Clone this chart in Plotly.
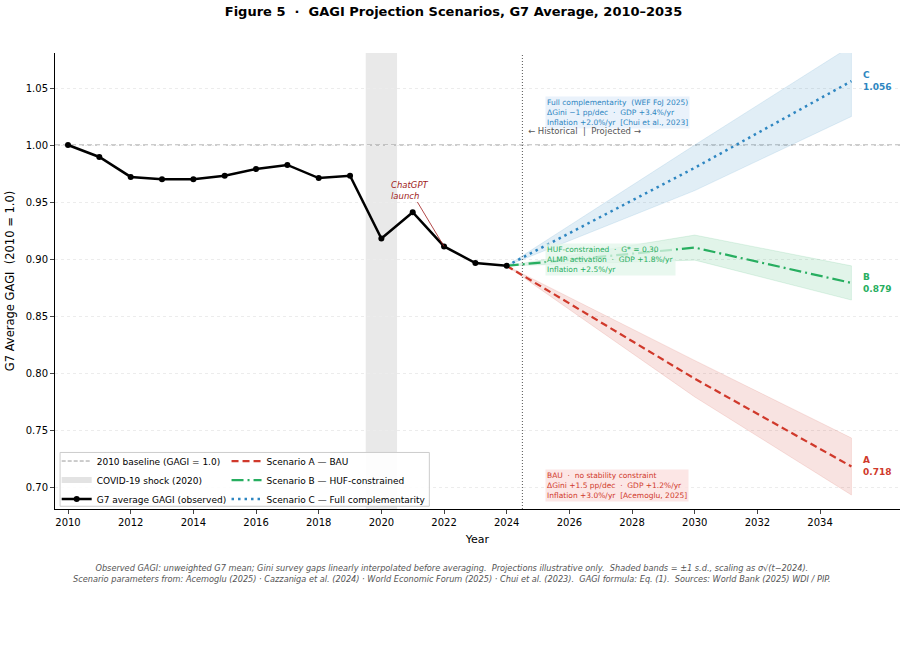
import plotly.graph_objects as go

# ---------------- data ----------------
obs_years = [2010, 2011, 2012, 2013, 2014, 2015, 2016, 2017, 2018, 2019, 2020, 2021, 2022, 2023, 2024]
obs_gagi = [1.000, 0.9895, 0.972, 0.970, 0.970, 0.973, 0.979, 0.9825, 0.971, 0.973, 0.918, 0.941, 0.911, 0.8965, 0.894]

proj_years = [2024, 2030, 2035]
scen_A = [0.894, 0.795, 0.718]
scen_B = [0.894, 0.910, 0.879]
scen_C = [0.894, 0.980, 1.056]
band_A = [0.0, 0.016, 0.025]
band_B = [0.0, 0.011, 0.015]
band_C = [0.0, 0.020, 0.031]

baseline_value = 1.0
covid_years = [2019.5, 2020.5]
split_year = 2024.5
chatgpt_year = 2022

x_ticks = list(range(2010, 2036, 2))
y_ticks = [0.70, 0.75, 0.80, 0.85, 0.90, 0.95, 1.00, 1.05]

col_A = "#d0392b"
col_B = "#27ae60"
col_C = "#2e86c1"
font_family = "DejaVu Sans"

fig = go.Figure()

# covid shading
fig.add_vrect(x0=covid_years[0], x1=covid_years[1], fillcolor="#e3e3e3", opacity=0.8,
              line_width=0, layer="below")
# baseline
fig.add_hline(y=baseline_value, line=dict(color="#9a9a9a", width=1, dash="5px,3px"), layer="below")
# split line
fig.add_vline(x=split_year, line=dict(color="#555555", width=1, dash="1px,2px"))


def band_poly(values, half):
    up = [v + h for v, h in zip(values, half)]
    lo = [v - h for v, h in zip(values, half)]
    return proj_years + proj_years[::-1], up + lo[::-1]


for vals, half, fillc in [(scen_A, band_A, "rgba(208,57,43,0.14)"),
                          (scen_B, band_B, "rgba(39,174,96,0.14)"),
                          (scen_C, band_C, "rgba(46,134,193,0.14)")]:
    bx, by = band_poly(vals, half)
    fig.add_trace(go.Scatter(x=bx, y=by, fill="toself", fillcolor=fillc, mode="lines",
                             line=dict(color=fillc.replace("0.14", "0.16"), width=0.8),
                             showlegend=False, hoverinfo="skip"))

# legend-only items (col 1)
fig.add_trace(go.Scatter(x=[None], y=[None], mode="lines", name="2010 baseline (GAGI = 1.0)",
                         line=dict(color="#9a9a9a", width=1, dash="4px,2px"), legend="legend"))
fig.add_trace(go.Scatter(x=[None, None, None], y=[None, None, None], mode="none", fill="toself",
                         fillcolor="#e3e3e3", name="COVID-19 shock (2020)", legend="legend"))

# scenarios
fig.add_trace(go.Scatter(x=proj_years, y=scen_A, mode="lines", name="Scenario A — BAU",
                         line=dict(color=col_A, width=2.2, dash="7px,4px"), legend="legend2"))
fig.add_trace(go.Scatter(x=proj_years, y=scen_B, mode="lines", name="Scenario B — HUF-constrained",
                         line=dict(color=col_B, width=2.2, dash="12px,4px,2px,4px"), legend="legend2"))
fig.add_trace(go.Scatter(x=proj_years, y=scen_C, mode="lines", name="Scenario C — Full complementarity",
                         line=dict(color=col_C, width=2.5, dash="2.5px,4px"), legend="legend2"))

# observed
fig.add_trace(go.Scatter(x=obs_years, y=obs_gagi, mode="lines+markers", name="G7 average GAGI (observed)",
                         line=dict(color="black", width=2.5), marker=dict(color="black", size=6),
                         legend="legend"))

# ChatGPT annotation
idx = obs_years.index(chatgpt_year)
fig.add_annotation(x=chatgpt_year, y=obs_gagi[idx], ax=2020.92, ay=0.9605, axref="x", ayref="y",
                   text="<i>ChatGPT<br>launch</i>", showarrow=True, arrowhead=0, arrowwidth=0.8,
                   arrowcolor="#a01c1c", font=dict(size=8.5, color="#a01c1c", family=font_family),
                   align="left")

# scenario boxes
box_font = 7.5
fig.add_annotation(x=2025.22, y=1.043, xanchor="left", yanchor="top", showarrow=False, align="left",
                   text="Full complementarity  (WEF FoJ 2025)<br>ΔGini −1 pp/dec  ·  GDP +3.4%/yr<br>Inflation +2.0%/yr  [Chui et al., 2023]",
                   font=dict(size=box_font, color=col_C, family=font_family),
                   bgcolor="rgba(230,240,250,0.85)", borderpad=1)
fig.add_annotation(x=2025.22, y=0.914, xanchor="left", yanchor="top", showarrow=False, align="left",
                   text="HUF-constrained  ·  G* = 0.30<br>ALMP activation  ·  GDP +1.8%/yr<br>Inflation +2.5%/yr",
                   font=dict(size=box_font, color=col_B, family=font_family),
                   bgcolor="rgba(226,245,233,0.75)", borderpad=1)
fig.add_annotation(x=2025.22, y=0.716, xanchor="left", yanchor="top", showarrow=False, align="left",
                   text="BAU  ·  no stability constraint<br>ΔGini +1.5 pp/dec  ·  GDP +1.2%/yr<br>Inflation +3.0%/yr  [Acemoglu, 2025]",
                   font=dict(size=box_font, color=col_A, family=font_family),
                   bgcolor="rgba(251,226,225,0.85)", borderpad=1)

fig.add_annotation(x=2024.62, y=1.0123, xanchor="left", yanchor="middle", showarrow=False,
                   text="← Historical  |  Projected →", font=dict(size=8.5, color="#555555", family=font_family))

# end labels
for lab, vals, c in [("A", scen_A, col_A), ("B", scen_B, col_B), ("C", scen_C, col_C)]:
    fig.add_annotation(x=proj_years[-1] + 0.3, y=vals[-1], xanchor="left", yanchor="middle", showarrow=False,
                       align="left", text=f"<b>{lab}<br>{vals[-1]:.3f}</b>",
                       font=dict(size=9, color=c, family=font_family))

# footnote
fig.add_annotation(xref="paper", yref="paper", x=0.47, y=-0.113, xanchor="center", yanchor="top",
                   showarrow=False, align="center",
                   text="<i>Observed GAGI: unweighted G7 mean; Gini survey gaps linearly interpolated before averaging.  Projections illustrative only.  Shaded bands = ±1 s.d., scaling as σ√(t−2024).<br>Scenario parameters from: Acemoglu (2025) · Cazzaniga et al. (2024) · World Economic Forum (2025) · Chui et al. (2023).  GAGI formula: Eq. (1).  Sources: World Bank (2025) WDI / PIP.</i>",
                   font=dict(size=8.2, color="#555555", family=font_family))

# legend frame
fig.add_shape(type="rect", xref="paper", yref="paper", x0=0.006, x1=0.443, y0=0.006, y1=0.124,
              fillcolor="rgba(255,255,255,0.9)", line=dict(color="#cccccc", width=1), layer="above")

fig.update_layout(
    width=907, height=649,
    margin=dict(l=55, r=7, t=53, b=140),
    paper_bgcolor="white", plot_bgcolor="white",
    font=dict(family=font_family, size=10, color="black"),
    title=dict(text="<b>Figure 5  ·  GAGI Projection Scenarios, G7 Average, 2010–2035</b>",
               x=0.5, xanchor="center", y=0.99, yanchor="top", font=dict(size=13)),
    legend=dict(x=0.002, y=0.137, xanchor="left", yanchor="top", bgcolor="rgba(0,0,0,0)",
                font=dict(size=9), traceorder="normal", tracegroupgap=0, itemwidth=30),
    legend2=dict(x=0.203, y=0.137, xanchor="left", yanchor="top", bgcolor="rgba(0,0,0,0)",
                 font=dict(size=9), traceorder="normal", tracegroupgap=0, itemwidth=30),
    xaxis=dict(range=[2009.585, 2036.55], tickvals=x_ticks, showgrid=False, zeroline=False,
               showline=True, linecolor="black", linewidth=1, ticks="outside", ticklen=4,
               title=dict(text="Year", font=dict(size=11), standoff=8), mirror=False),
    yaxis=dict(range=[0.6807, 1.0807], tickvals=y_ticks, tickformat=".2f", showgrid=True,
               gridcolor="#ececec", griddash="dot", gridwidth=0.8, zeroline=False,
               showline=True, linecolor="black", linewidth=1, ticks="outside", ticklen=4,
               title=dict(text="G7 Average GAGI  (2010 = 1.0)", font=dict(size=11.5), standoff=8)),
)

fig.write_html("out.html")
